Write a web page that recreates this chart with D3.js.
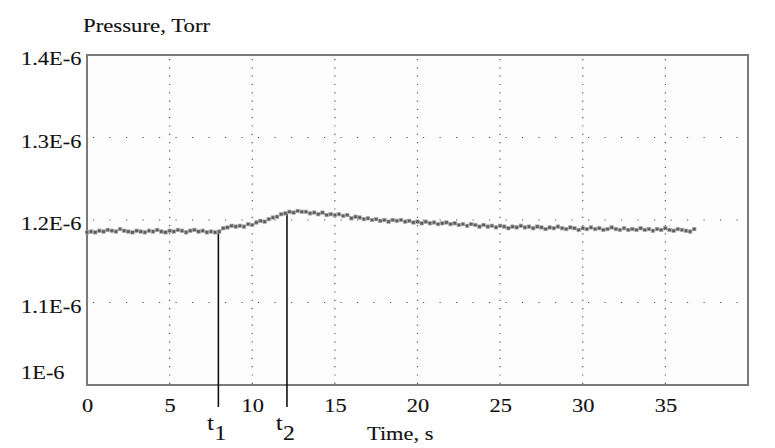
<!DOCTYPE html>
<html>
<head>
<meta charset="utf-8">
<title>Pressure vs time</title>
<style>
  body { margin: 0; background: #fff; }
  svg text { font-family: "Liberation Serif", "DejaVu Serif", serif; fill: #111; stroke: #111; stroke-width: 0.12px; }
</style>
</head>
<body>
<script src="https://cdn.jsdelivr.net/npm/d3@7"></script>
<script>
// ---- data (pressure in units of 1E-9 Torr, one sample every 0.25 s from t = 0) ----
var sampleStep = 0.25;
var pressure = [
  1185,1186,1185,1187,1186,1188,1187,1186,1189,1187,1186,1185,1187,1186,1185,1187,
  1186,1188,1186,1185,1187,1186,1188,1187,1185,1187,1188,1186,1187,1185,1186,1185,
  1186,1190,1191,1193,1192,1193,1192,1195,1194,1197,1199,1198,1201,1203,1204,1207,
  1208,1210,1209,1211,1210,1210,1208,1209,1207,1209,1206,1207,1206,1207,1205,1206,
  1202,1204,1203,1201,1202,1200,1201,1199,1200,1198,1200,1199,1200,1198,1199,1197,
  1198,1196,1198,1196,1197,1195,1196,1197,1195,1196,1194,1195,1193,1195,1194,1192,
  1194,1192,1193,1191,1193,1192,1190,1192,1191,1193,1191,1192,1190,1192,1191,1189,
  1191,1190,1192,1190,1189,1191,1190,1188,1190,1189,1191,1189,1190,1188,1189,1191,
  1189,1188,1190,1188,1189,1188,1190,1188,1189,1187,1189,1188,1190,1188,1187,1189,
  1188,1187,1186,1189
];
var xTicks = [0, 5, 10, 15, 20, 25, 30, 35];
var yTicks = [1.0, 1.1, 1.2, 1.3, 1.4];           // x 1E-6 Torr
var yTickLabels = ["1E-6", "1.1E-6", "1.2E-6", "1.3E-6", "1.4E-6"];
var markerTimes = [7.95, 12.1];
var markerValues = [1186, 1210];
var markerNames = ["1", "2"];

var W = 775, H = 448;
var FONT = "'Liberation Serif', 'DejaVu Serif', serif";
var svg = d3.select("body").append("svg").attr("width", W).attr("height", H);

var x = d3.scaleLinear().domain([0, 40]).range([87, 748]);
var y = d3.scaleLinear().domain([1.0, 1.4]).range([385, 55]);
var sx = 1.18; // the original lettering is stretched horizontally

// plot background
svg.append("rect")
  .attr("x", x(0)).attr("y", y(1.4))
  .attr("width", x(40) - x(0)).attr("height", y(1.0) - y(1.4))
  .attr("fill", "#fdfdfd");

// dotted grid
svg.append("g").selectAll("line")
  .data(xTicks.filter(function(d) { return d > 0; }))
  .enter().append("line")
  .attr("x1", function(d) { return x(d); }).attr("x2", function(d) { return x(d); })
  .attr("y1", y(1.4) + 4).attr("y2", y(1.0))
  .attr("stroke", "#555").attr("stroke-width", 1.2)
  .attr("stroke-dasharray", "1.2 7.1");

svg.append("g").selectAll("line")
  .data(yTicks.filter(function(d) { return d > 1.0 && d < 1.4; }))
  .enter().append("line")
  .attr("x1", x(0) + 6).attr("x2", x(40))
  .attr("y1", function(d) { return y(d); }).attr("y2", function(d) { return y(d); })
  .attr("stroke", "#555").attr("stroke-width", 1.2)
  .attr("stroke-dasharray", "1.2 15.3");

// frame
svg.append("rect")
  .attr("x", x(0)).attr("y", y(1.4))
  .attr("width", x(40) - x(0)).attr("height", y(1.0) - y(1.4))
  .attr("fill", "none").attr("stroke", "#7a7a7a").attr("stroke-width", 2);

// t1 / t2 marker lines
svg.append("g").selectAll("line")
  .data(markerTimes)
  .enter().append("line")
  .attr("x1", function(d) { return x(d); }).attr("x2", function(d) { return x(d); })
  .attr("y1", function(d, i) { return y(markerValues[i] / 1000); })
  .attr("y2", 407)
  .attr("stroke", "#111").attr("stroke-width", 1.6);

// data trace
var pts = pressure.map(function(v, i) { return [i * sampleStep, v / 1000]; });
svg.append("path")
  .datum(pts)
  .attr("fill", "none").attr("stroke", "#a0a0a0").attr("stroke-width", 1.6)
  .attr("d", d3.line().x(function(d) { return x(d[0]); }).y(function(d) { return y(d[1]); }));
svg.append("g").selectAll("rect")
  .data(pts)
  .enter().append("rect")
  .attr("x", function(d) { return x(d[0]) - 1.7; })
  .attr("y", function(d) { return y(d[1]) - 1.7; })
  .attr("width", 3.4).attr("height", 3.4)
  .attr("fill", "#5c5c5c").attr("stroke", "#a8a8a8").attr("stroke-width", 0.7);

// x axis labels
var xAxis = d3.axisBottom(x).tickValues(xTicks).tickSize(0).tickPadding(0)
  .tickFormat(d3.format("d"));
var gx = svg.append("g").attr("transform", "translate(0," + y(1.0) + ")").call(xAxis);
gx.select(".domain").remove();
gx.attr("font-family", FONT).attr("font-size", 19);
gx.selectAll("text")
  .attr("fill", "#111")
  .attr("dy", null).attr("y", 0)
  .attr("transform", "translate(0,27) scale(" + sx + ",1)");

// y axis labels (left aligned, as in the original)
svg.append("g").attr("font-family", FONT).selectAll("text")
  .data(yTicks)
  .enter().append("text")
  .attr("font-size", 19)
  .attr("transform", function(d, i) {
    var yy = i === 0 ? y(d) - 6 : y(d) + 10;
    return "translate(21," + yy + ") scale(" + sx + ",1)";
  })
  .text(function(d, i) { return yTickLabels[i]; });

// axis titles
svg.append("text").attr("font-family", FONT).attr("font-size", 19)
  .attr("transform", "translate(83,32) scale(1.2,1)")
  .text("Pressure, Torr");
svg.append("text").attr("font-family", FONT).attr("font-size", 19)
  .attr("transform", "translate(367,440) scale(" + sx + ",1)")
  .text("Time, s");

// t1 / t2 labels
var tl = svg.append("g").attr("font-family", FONT).selectAll("g")
  .data(markerTimes)
  .enter().append("g")
  .attr("transform", function(d) { return "translate(" + (x(d) - 11) + ",430) scale(" + sx + ",1)"; });
tl.append("text").attr("font-size", 20).text("t");
tl.append("text").attr("font-size", 20).attr("x", 6).attr("y", 10)
  .text(function(d, i) { return markerNames[i]; });
</script>
</body>
</html>
